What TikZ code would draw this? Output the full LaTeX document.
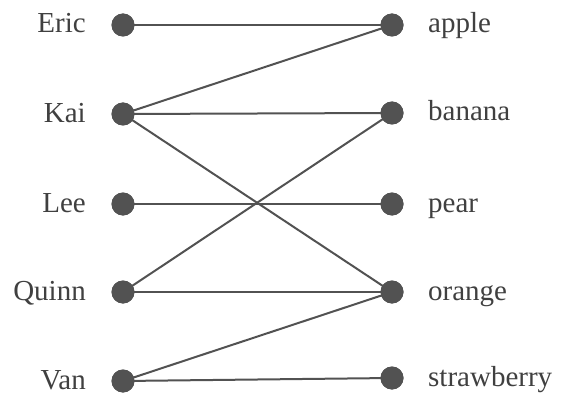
\documentclass[tikz,border=0pt]{standalone}
\usepackage{fontspec}
\setmainfont{Liberation Serif}
\begin{document}
\begin{tikzpicture}[x=1pt,y=-1pt,
  dot/.style={circle,fill=black!68,inner sep=0pt,minimum size=23pt},
  edge/.style={draw=black!68,line width=2pt},
  lbl/.style={text=black!75,font=\fontsize{29}{30}\selectfont,inner sep=0pt}]
\useasboundingbox (0,0) rectangle (563,396);
\foreach \n/\y in {Eric/25,Kai/114,Lee/204,Quinn/292,Van/381}{
  \node[dot] (\n) at (123,\y) {};
  \node[lbl,anchor=base east] (\n-t) at (86,\y+8) {\n};
}
\foreach \n/\y in {apple/25,banana/113,pear/204,orange/292,strawberry/378}{
  \node[dot] (\n) at (392,\y) {};
  \node[lbl,anchor=base west] (\n-t) at (428,\y+8) {\n};
}
\foreach \a/\b in {Eric/apple,Kai/apple,Kai/banana,Kai/orange,Lee/pear,Quinn/banana,Quinn/orange,Van/orange,Van/strawberry}
  \draw[edge] (\a.center) -- (\b.center);
\foreach \n in {Eric,Kai,Lee,Quinn,Van,apple,banana,pear,orange,strawberry}
  \fill[black!68] (\n) circle (11.5);
\end{tikzpicture}
\end{document}
